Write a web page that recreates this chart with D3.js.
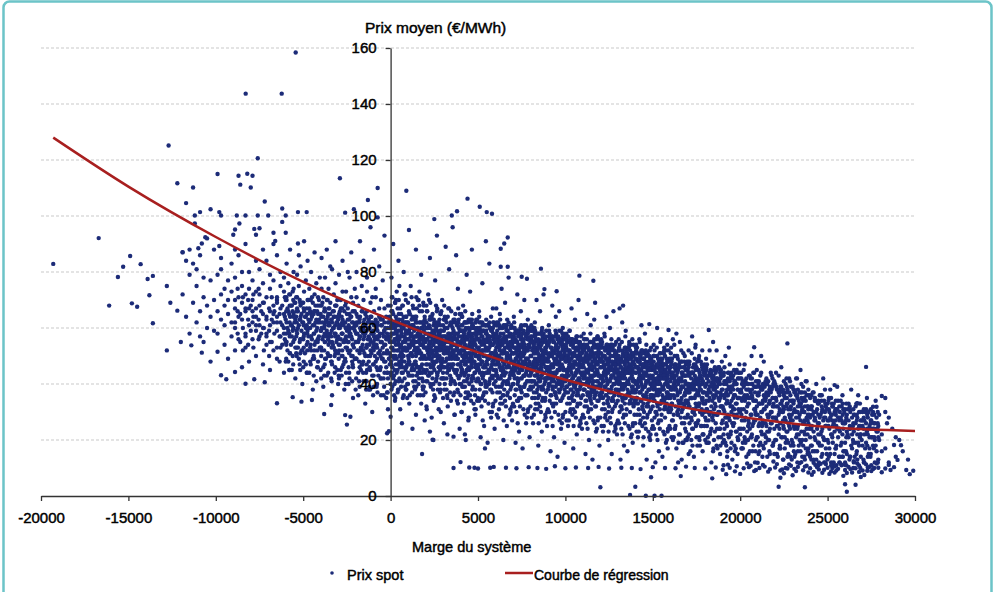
<!DOCTYPE html>
<html>
<head>
<meta charset="utf-8">
<script src="https://cdn.jsdelivr.net/npm/d3@7"></script>
<style>
  body { margin: 0; background: #fff; }
  text { font-family: "Liberation Sans", Arial, sans-serif; fill: #000; stroke: #000; stroke-width: 0.45px; }
</style>
</head>
<body>
<svg id="chart" width="997" height="592"></svg>
<script>
// marge du système en milliers de MW, prix en €/MWh
// chaque ligne : [marge, prix, prix, ...]
const nuageGauche = [
  [-11.9,72,87],[-11.7,64,84],[-11.5,58,79,88],[-11.3,69,83],[-11.1,75,62,81],[-10.9,57,86,66],[-10.7,71,55,78],
  [-10.5,60,92,68],[-10.3,77,64,48],[-10.1,70,59,88],[-9.9,66,79,58],[-9.7,63,85,72,81],[-9.5,54,68,74,61],
  [-9.3,77,49,65,70],[-9.1,57,83,62,73],[-8.9,67,52,60,78,88],[-8.7,64,71,56,86],[-8.5,69,46,63,75,80],
  [-8.3,58,66,72,53,90],[-8.1,61,80,67,48,74],
  [-8.9,62,70],[-8.75,58,66,74],[-8.6,65,55],[-8.45,60,71,52],[-8.3,67,57],[-8.15,63,54,70],[-8.0,59,68],
  [-7.85,64,53,72],[-7.7,61,67],[-7.55,56,63,74],[-7.4,66,58],[-7.25,60,52,69],[-7.1,64,57],[-6.95,59,67,50],
  [-6.8,63,55,71],[-6.65,58,66],[-6.5,62,53,70],[-6.35,57,65,48],[-6.2,61,68,54],[-6.05,56,64,71],
  [-7.9,62,70,56,77,66],[-7.7,59,73,64,50,84],[-7.5,68,81,61,57,72],[-7.3,65,47,76,60,69,88],[-7.1,54,84,63,71,58],
  [-6.9,66,45,79,61,74,55],[-6.7,68,62,52,77,65,90],[-6.5,59,71,86,64,49,69],[-6.3,57,75,62,67,53,80],[-6.1,60,73,44,65,78,58],
  [-5.95,62,70,55,83],[-5.85,66,48,76,59],[-5.75,64,72,51,88],[-5.65,68,61,57,45],[-5.55,74,65,60,80],
  [-5.45,69,63,53,42],[-5.35,79,67,58,71],[-5.25,61,49,75,86],[-5.15,64,56,82,68],[-5.05,69,52,62,40],
  [-4.95,58,73,66,91],[-4.85,47,60,77,64],[-4.75,55,70,59,84],[-4.65,67,44,62,74],[-4.55,52,65,57,80],
  [-4.45,61,49,69,38],[-4.35,54,66,72,87],[-4.25,59,63,41,76],[-4.15,71,56,65,48],[-4.05,62,78,53,68],
  [-3.95,60,68,52,74,85],[-3.85,57,64,46,71,39],[-3.75,62,55,66,49,78],[-3.65,59,63,70,43,88],[-3.55,54,67,61,74,57],
  [-3.45,65,50,69,58,82],[-3.35,62,81,55,47,36],[-3.25,66,60,72,53,64],[-3.15,58,76,51,68,91],[-3.05,64,45,62,56,70],
  [-2.95,61,65,52,79,42],[-2.85,56,70,45,61,67],[-2.75,63,58,73,50,84],[-2.65,48,66,55,62,38],[-2.55,73,60,57,44,69],
  [-2.45,63,55,67,52,80],[-2.35,60,42,78,58,65],[-2.25,57,64,50,71,87],[-2.15,62,69,54,46,35],[-2.05,59,66,61,74,49],
  [-1.95,58,65,49,71,62,80],[-1.85,55,62,44,68,36],[-1.75,60,52,57,64,91],[-1.65,47,75,59,53,66],[-1.55,62,41,56,70,84],
  [-1.45,65,50,58,61,33],[-1.35,45,54,66,73,78],[-1.25,57,63,48,60,38],[-1.15,52,69,55,64,96],[-1.05,43,58,62,71,30],
  [-0.95,66,54,39,61,88,57],[-0.85,71,48,63,53,74],[-0.75,45,56,62,59,37],[-0.65,51,57,64,67,82],[-0.55,42,36,61,55,70],
  [-0.45,63,49,58,53,77],[-0.35,44,59,67,62,93],[-0.25,56,35,51,64,46],[-0.15,62,42,57,68,31],[-0.05,51,64,47,60,55],
  [-6.0,63,55,70,48],[-5.9,60,67,52],[-5.8,65,58,72,45],[-5.7,61,54,68],[-5.6,66,59,50,73],[-5.5,62,56,69],
  [-5.4,64,57,51,71],[-5.3,60,66,53],[-5.2,63,55,70,47],[-5.1,59,65,52],[-5.0,62,56,69,46],[-4.9,64,58,51],
  [-4.8,61,54,67,44],[-4.7,63,57,70],[-4.6,60,53,66,48],[-4.5,64,56,71],[-4.4,58,65,50,43],[-4.3,62,55,68],
  [-4.2,60,66,52,46],[-4.1,63,57,70],[-4.0,59,53,65,45],[-3.9,62,56,69],[-3.8,60,52,66,43],[-3.7,63,57,49],
  [-3.6,58,64,51,70],[-3.5,61,55,67],[-3.4,57,63,48,42],[-3.3,60,54,66],[-3.2,58,64,50,44],[-3.1,62,55,68],
  [-3.0,57,51,63,40],[-2.9,60,54,66],[-2.8,58,50,64,43],[-2.7,61,55,47],[-2.6,56,62,49,68],[-2.5,59,53,65],
  [-2.4,55,61,46,40],[-2.3,58,52,64],[-2.2,56,62,48,41],[-2.1,60,53,66],[-2.0,55,49,61,38],[-1.9,58,52,64],
  [-1.8,56,48,62,41],[-1.7,59,53,45],[-1.6,54,60,47,66],[-1.5,57,51,63],[-1.4,53,59,44,38],[-1.3,56,50,62],
  [-1.2,54,60,46,39],[-1.1,58,51,64],[-1.0,53,47,59,36],[-0.9,56,50,62],[-0.8,54,46,60,39],[-0.7,57,51,43],
  [-0.6,52,58,45,64],[-0.5,55,49,61],[-0.4,51,57,42,36],[-0.3,54,48,60],[-0.2,52,58,44,37],[-0.1,56,49,62]
];

const nuageCentre = [
  [0.05,55,61,47,38,66,78],[0.15,58,65,42,52,50,90],[0.25,52,60,69,56,34],[0.35,56,49,63,58,44,73],[0.45,54,59,38,62,47,84],
  [0.55,61,46,67,53,57,31],[0.65,53,57,41,60,48,26],[0.75,60,50,64,55,36,80],[0.85,55,45,72,58,52,62],[0.95,58,52,62,40,47,35],
  [1.05,48,56,66,53,59,95],[1.15,54,43,60,57,51,75],[1.25,57,50,64,46,61,24],[1.35,52,39,59,55,63,45],[1.45,55,47,62,50,29,88],
  [1.55,53,58,36,60,44,70],[1.65,56,44,68,52,57,73],[1.75,51,60,46,54,33,79],[1.85,57,54,41,62,49,38],[1.95,56,50,63,27,53,64],
  [2.05,56,49,62,53,68,32],[2.15,53,58,43,60,51,72],[2.25,55,60,47,23,57,85],[2.35,51,64,57,44,49,28],[2.45,54,40,59,61,52,20],
  [2.55,52,48,62,56,35,77],[2.65,56,44,66,50,59,93],[2.75,50,58,53,62,46,31],[2.85,55,38,61,48,57,65],[2.95,49,57,46,54,42,70],
  [3.05,54,59,42,51,63,26],[3.15,52,63,48,57,55,89],[3.25,56,51,35,60,46,22],[3.35,58,45,67,53,49,81],[3.45,53,55,41,61,57,34],
  [3.55,50,60,47,56,52,96],[3.65,57,52,37,62,45,29],[3.75,54,44,62,50,58,86],[3.85,49,58,33,55,47,74],[3.95,55,51,65,40,59,24],
  [4.05,55,48,61,52,44,65,30],[4.15,52,57,44,59,50,39,68],[4.25,54,59,39,47,62,56,22],[4.35,50,62,56,45,53,41,79],
  [4.45,53,46,58,51,60,36,27],[4.55,51,55,36,48,57,63,73],[4.65,57,49,63,42,54,46,88],[4.75,52,42,60,55,48,58,33],
  [4.85,54,47,58,50,62,38,29],[4.95,50,56,34,53,45,60,63],[5.05,53,59,45,49,56,41,66],[5.15,51,55,40,58,47,62,21],
  [5.25,57,48,62,52,44,55,76],[5.35,52,54,37,59,50,46,25],[5.45,50,58,44,53,61,40,91],[5.55,55,49,61,47,57,52,19],
  [5.65,53,41,57,62,45,50,83],[5.75,51,46,64,54,59,38,28],[5.85,54,48,32,57,51,60,67],[5.95,56,50,43,61,47,55,24],
  [6.05,53,47,58,44,61,50,67],[6.15,50,55,42,57,48,62,28],[6.25,52,57,37,46,60,54,65],[6.35,49,60,54,43,51,39,74],
  [6.45,51,45,56,58,48,36,20],[6.55,48,53,34,55,61,44,69],[6.65,55,46,61,50,41,57,25],[6.75,50,40,57,53,47,62,78],
  [6.85,52,44,55,49,58,38,31],[6.95,48,54,32,51,57,45,27],[7.05,51,57,43,47,60,53,64],[7.15,49,53,38,56,45,59,19],
  [7.25,55,46,59,50,42,53,72],[7.35,50,52,35,58,47,44,23],[7.45,47,56,42,51,60,38,66],[7.55,53,48,58,45,55,50,17],
  [7.65,51,39,54,61,43,47,70],[7.75,49,44,61,52,57,36,26],[7.85,52,46,30,56,49,58,63],[7.95,54,48,41,59,45,53,21],
  [8.05,50,44,56,41,59,47,61],[8.15,47,53,39,55,45,60,26],[8.25,49,55,35,43,58,51,62],[8.35,46,58,51,40,48,37,70],
  [8.45,48,42,54,56,45,33,18],[8.55,45,50,32,53,58,41,66],[8.65,52,43,59,47,38,55,23],[8.75,47,38,55,50,44,58,72],
  [8.85,49,41,53,46,56,35,29],[8.95,45,51,30,48,54,42,25],[9.05,48,55,40,44,57,50,61],[9.15,46,50,36,53,42,56,16],
  [9.25,52,43,57,47,39,51,68],[9.35,47,49,33,55,44,41,21],[9.45,44,53,39,48,57,36,64],[9.55,50,45,56,42,52,47,14],
  [9.65,48,37,51,59,40,45,66],[9.75,46,41,59,49,54,34,24],[9.85,49,43,28,53,46,56,60],[9.95,51,45,38,56,42,50,19],
  [10.05,48,42,53,39,56,45,58],[10.15,45,50,37,52,43,57,25],[10.25,47,52,33,41,55,48,59],[10.35,44,56,49,38,46,35,67],
  [10.45,46,40,51,53,43,31,17],[10.55,43,48,30,50,55,39,63],[10.65,50,41,55,45,36,52,22],[10.75,45,36,52,47,42,55,70],
  [10.85,47,39,50,44,53,33,27],[10.95,43,49,28,46,51,40,24],[11.05,46,52,38,42,54,48,58],[11.15,44,48,34,50,40,53,15],
  [11.25,50,41,54,45,37,49,65],[11.35,45,47,31,52,42,39,20],[11.45,42,51,37,46,55,34,61],[11.55,48,43,53,40,50,45,13],
  [11.65,46,35,49,56,38,43,63],[11.75,44,39,56,47,51,32,23],[11.85,47,41,27,50,44,53,57],[11.95,49,43,36,53,40,48,18],
  [12.05,46,40,51,37,54,56],[12.15,43,48,35,50,41,23],[12.25,45,50,31,39,53,57],[12.35,42,54,47,36,44,64],
  [12.45,44,38,49,51,30,20],[12.55,41,46,28,48,53,60],[12.65,48,39,53,43,34,15],[12.75,43,34,50,45,40,66],
  [12.85,45,37,48,42,51,25],[12.95,41,47,26,44,49,22],[13.05,44,50,36,40,52,56],[13.15,42,46,32,48,38,13],
  [13.25,48,39,52,43,35,62],[13.35,43,45,29,50,40,18],[13.45,40,49,35,44,53,59],[13.55,46,41,51,38,48,16],
  [13.65,44,33,47,54,36,55],[13.75,42,37,54,45,49,21],[13.85,45,39,25,48,42,19],[13.95,47,41,34,51,38,29],
  [14.05,44,38,49,35,52,54],[14.15,41,46,33,48,39,21],[14.25,43,48,29,37,51,55],[14.35,40,52,45,34,42,61],
  [14.45,42,36,47,49,28,18],[14.55,39,44,26,46,51,58],[14.65,46,37,51,41,32,13],[14.75,41,32,48,43,38,23],
  [14.85,43,35,46,40,49,20],[14.95,39,45,24,42,47,27],[15.05,42,48,34,38,50,54],[15.15,40,44,30,46,36,12],
  [15.25,46,37,50,41,33,60],[15.35,41,43,27,48,38,16],[15.45,38,47,33,42,51,56],[15.55,44,39,49,36,46,14],
  [15.65,42,31,45,52,34,53],[15.75,40,35,52,43,47,19],[15.85,43,37,23,46,40,17],[15.95,45,39,32,49,36,25]
];

// second passage sur le nuage, plus dense
const nuageDense = [
  [0.0,57,50,63,44,68,40],[0.1,53,60,46,66,39,71],[0.2,58,49,62,55,43,36],[0.3,54,64,47,59,70,41],[0.4,61,52,45,57,67,37],
  [0.5,50,56,63,42,48,75],[0.6,59,54,47,65,39,51],[0.7,55,62,44,50,68,35],[0.8,57,48,61,53,42,72],[0.9,52,59,46,64,38,56],
  [1.0,56,50,62,44,69,40],[1.1,53,60,47,58,36,65],[1.2,58,51,45,63,55,71],[1.3,54,47,61,56,41,67],[1.4,60,53,48,64,38,57],
  [1.5,51,57,43,62,67,46],[1.6,59,52,46,55,40,70],[1.7,54,62,49,44,58,36],[1.8,56,50,60,47,66,42],[1.9,53,59,45,61,39,68],
  [2.0,55,49,62,44,58,37],[2.1,52,60,47,56,41,66],[2.2,57,50,43,61,54,70],[2.3,53,58,46,63,39,55],[2.4,59,51,48,56,42,65],
  [2.5,50,55,62,45,36,58],[2.6,56,48,53,60,41,68],[2.7,52,57,44,61,49,38],[2.8,58,50,46,54,63,40],[2.9,53,59,47,42,56,66],
  [3.0,55,48,61,44,52,35],[3.1,51,57,46,60,40,64],[3.2,56,49,53,42,62,38],[3.3,52,58,45,55,47,67],[3.4,57,50,43,61,37,53],
  [3.5,49,55,62,46,41,58],[3.6,54,47,59,51,63,36],[3.7,52,58,44,56,40,65],[3.8,56,49,61,45,53,34],[3.9,51,57,47,60,42,63],
  [4.0,54,47,59,43,51,36],[4.1,50,56,45,61,39,64],[4.2,55,49,52,41,58,33],[4.3,51,57,44,60,47,37],[4.4,56,48,53,42,62,35],
  [4.5,49,54,59,45,40,57],[4.6,53,46,58,50,62,34],[4.7,51,56,43,55,39,61],[4.8,55,48,60,44,52,31],[4.9,50,57,46,59,41,63],
  [5.0,53,46,58,42,50,35],[5.1,49,55,44,60,38,62],[5.2,54,48,51,40,57,32],[5.3,50,56,43,59,46,36],[5.4,55,47,52,41,61,34],
  [5.5,48,53,58,44,39,56],[5.6,52,45,57,49,61,33],[5.7,50,55,42,54,38,60],[5.8,54,47,59,43,51,30],[5.9,49,56,45,58,40,62],
  [6.0,52,45,57,41,49,34],[6.1,48,54,43,59,37,61],[6.2,53,47,50,39,56,31],[6.3,49,55,42,58,45,35],[6.4,54,46,51,40,60,33],
  [6.5,47,52,57,43,38,55],[6.6,51,44,56,48,60,32],[6.7,49,54,41,53,37,59],[6.8,53,46,58,42,50,29],[6.9,48,55,44,57,39,61],
  [7.0,51,44,56,40,48,33],[7.1,47,53,42,58,36,60],[7.2,52,46,49,38,55,30],[7.3,48,54,41,57,44,34],[7.4,53,45,50,39,59,32],
  [7.5,46,51,56,42,37,54],[7.6,50,43,55,47,59,31],[7.7,48,53,40,52,36,58],[7.8,52,45,57,41,49,28],[7.9,47,54,43,56,38,60],
  [8.0,50,43,55,39,47,32],[8.1,46,52,41,57,35,59],[8.2,51,45,48,37,54,29],[8.3,47,53,40,56,43,33],[8.4,52,44,49,38,58,31],
  [8.5,45,50,55,41,36,53],[8.6,49,42,54,46,58,30],[8.7,47,52,39,51,35,57],[8.8,51,44,56,40,48,27],[8.9,46,53,42,55,37,59],
  [9.0,49,42,54,38,46,31],[9.1,45,51,40,56,34,58],[9.2,50,44,47,36,53,28],[9.3,46,52,39,55,42,32],[9.4,51,43,48,37,57,30],
  [9.5,44,49,54,40,35,52],[9.6,48,41,53,45,57,29],[9.7,46,51,38,50,34,56],[9.8,50,43,55,39,47,26],[9.9,45,52,41,54,36,58],
  [10.0,48,41,53,37,45,30],[10.1,44,50,39,55,33,57],[10.2,49,43,46,35,52,27],[10.3,45,51,38,54,41,31],[10.4,50,42,47,36,56,29],
  [10.5,43,48,53,39,34,51],[10.6,47,40,52,44,56,28],[10.7,45,50,37,49,33,55],[10.8,49,42,54,38,46,25],[10.9,44,51,40,53,35,57],
  [11.0,47,40,52,36,44,29],[11.1,43,49,38,54,32,56],[11.2,48,42,45,34,51,26],[11.3,44,50,37,53,40,30],[11.4,49,41,46,35,55,28],
  [11.5,42,47,52,38,33,50],[11.6,46,39,51,43,55,27],[11.7,44,49,36,48,32,54],[11.8,48,41,53,37,45,24],[11.9,43,50,39,52,34,56],
  [12.0,46,39,51,35,43,28],[12.1,42,48,37,53,31,55],[12.2,47,41,44,33,50,25],[12.3,43,49,36,52,39,29],[12.4,48,40,45,34,54,27],
  [12.5,41,46,51,37,32,49],[12.6,45,38,50,42,54,26],[12.7,43,48,35,47,31,53],[12.8,47,40,52,36,44,23],[12.9,42,49,38,51,33,55],
  [13.0,45,38,50,34,42,27],[13.1,41,47,36,52,30,54],[13.2,46,40,43,32,49,24],[13.3,42,48,35,51,38,28],[13.4,47,39,44,33,53,26],
  [13.5,40,45,50,36,31,48],[13.6,44,37,49,41,53,25],[13.7,42,47,34,46,30,52],[13.8,46,39,51,35,43,22],[13.9,41,48,37,50,32,54],
  [14.0,44,37,49,33,41,26],[14.1,40,46,35,51,29,53],[14.2,45,39,42,31,48,23],[14.3,41,47,34,50,37,27],[14.4,46,38,43,32,52,25],
  [14.5,39,44,49,35,30,47],[14.6,43,36,48,40,52,24],[14.7,41,46,33,45,29,51],[14.8,45,38,50,34,42,21],[14.9,40,47,36,49,31,53],
  [15.0,43,36,48,32,40,25],[15.1,39,45,34,50,28,52],[15.2,44,38,41,30,47,22],[15.3,40,46,33,49,36,26],[15.4,45,37,42,31,51,24],
  [15.5,38,43,48,34,29,46],[15.6,42,35,47,39,51,23],[15.7,40,45,32,44,28,50],[15.8,44,37,49,33,41,20],[15.9,39,46,35,48,30,52],
  [16.0,41,35,46,30,24],[16.1,38,44,33,49,27],[16.2,43,36,40,29,21],[16.3,39,45,32,47,25],[16.4,44,36,41,30,50],
  [16.5,37,42,47,33,22],[16.6,41,34,46,38,28],[16.7,39,44,31,43,19],[16.8,43,36,48,32,26],[16.9,38,45,34,47,23],
  [17.0,40,34,45,29,21],[17.1,37,43,32,48,26],[17.2,42,35,39,28,20],[17.3,38,44,31,46,24],[17.4,43,35,40,29,49],
  [17.5,36,41,46,32,21],[17.6,40,33,45,37,27],[17.7,38,43,30,42,18],[17.8,42,35,47,31,25],[17.9,37,44,33,46,22],
  [18.0,39,33,44,28,20],[18.1,36,42,31,47,25],[18.2,41,34,38,27,19],[18.3,37,43,30,45,23],[18.4,42,34,39,28,48],
  [18.5,35,40,45,31,20],[18.6,39,32,44,36,26],[18.7,37,42,29,41,17],[18.8,41,34,46,30,24],[18.9,36,43,32,45,21],
  [19.0,38,32,43,27,19],[19.1,35,41,30,46,24],[19.2,40,33,37,26,18],[19.3,36,42,29,44,22],[19.4,41,33,38,27,47],
  [19.5,34,39,44,30,19],[19.6,38,31,43,35,25],[19.7,36,41,28,40,16],[19.8,40,33,45,29,23],[19.9,35,42,31,44,20],
  [20.0,37,30,42,22],[20.1,34,40,27,17],[20.2,39,31,24,45],[20.3,35,41,28,19],[20.4,40,32,23,36],
  [20.5,33,38,26,43],[20.6,37,29,42,21],[20.7,35,40,25,16],[20.8,39,31,44,27],[20.9,34,41,29,20],
  [21.0,36,29,41,21],[21.1,33,39,26,16],[21.2,38,30,23,44],[21.3,34,40,27,18],[21.4,39,31,22,35],
  [21.5,32,37,25,42],[21.6,36,28,41,20],[21.7,34,39,24,15],[21.8,38,30,43,26],[21.9,33,40,28,19],
  [22.0,35,28,40,20],[22.1,32,38,25,15],[22.2,37,29,22,43],[22.3,33,39,26,17],[22.4,38,30,21,34],
  [22.5,31,36,24,41],[22.6,35,27,40,19],[22.7,33,38,23,14],[22.8,37,29,42,25],[22.9,32,39,27,18],
  [23.0,34,27,39,19],[23.1,31,37,24,14],[23.2,36,28,21,42],[23.3,32,38,25,16],[23.4,37,29,20,33],
  [23.5,30,35,23,40],[23.6,34,26,39,18],[23.7,32,37,22,13],[23.8,36,28,41,24],[23.9,31,38,26,17],
  [24.0,28,21,35,14],[24.1,25,32,18],[24.2,30,23,13,37],[24.3,27,34,20],[24.4,31,16,24],[24.5,26,33,19,12],
  [24.6,29,22,36],[24.7,24,31,15],[24.8,28,20,34,12],[24.9,25,32,17],[25.0,27,20,33,13],[25.1,24,30,17],
  [25.2,29,22,12,35],[25.3,25,32,19],[25.4,30,15,23],[25.5,25,31,18,11],[25.6,28,21,34],[25.7,23,30,14],
  [25.8,27,19,32,11],[25.9,24,31,16],[26.0,26,19,31,12],[26.1,23,29,15],[26.2,27,21,33],[26.3,24,30,14],
  [26.4,28,17,22],[26.5,23,29,12],[26.6,26,19,32],[26.7,22,28,13],[26.8,25,18,30],[26.9,22,27,14],
  [27.0,25,18,30],[27.1,22,27,12],[27.2,26,19,31],[27.3,22,28,14],[27.4,25,17,21],[27.5,21,27,11],
  [27.6,24,18,30],[27.7,20,26,12],[27.8,23,16,28],[27.9,21,25,13]
];

// troisième passage sur le cœur le plus sombre
const nuageCoeur = [
  [-5.97,58,66,49,71,54],[-5.77,62,51,68,45,57],[-5.57,55,64,60,47,70],[-5.37,59,50,66,53,62],[-5.17,63,56,45,69,51],
  [-4.97,57,61,48,67,53],[-4.77,60,52,65,44,58],[-4.57,54,63,57,70,47],[-4.37,61,49,58,66,52],[-4.17,56,62,46,55,68],
  [-3.97,59,53,64,42,50],[-3.77,55,61,47,67,58],[-3.57,62,50,56,44,65],[-3.37,53,59,63,48,41],[-3.17,57,46,61,68,52],
  [-2.97,60,54,49,64,43],[-2.77,52,58,62,46,67],[-2.57,56,48,60,53,40],[-2.37,59,51,44,63,57],[-2.17,54,60,47,66,50],
  [-1.97,55,49,61,42,58],[-1.77,51,57,46,63,39],[-1.57,58,52,44,60,48],[-1.37,53,47,59,41,64],[-1.17,56,50,62,45,38],
  [-0.97,52,58,43,55,47],[-0.77,57,49,61,40,53],[-0.57,50,55,46,63,42],[-0.37,54,59,48,39,57],[-0.17,51,56,44,60,37],
  [0.03,53,48,58,43,62],[0.23,50,56,45,61,40],[0.43,55,47,52,63,38],[0.63,51,58,44,49,60],[0.83,56,46,53,39,62],
  [1.03,49,54,59,43,47],[1.23,54,50,45,61,37],[1.43,52,57,41,48,63],[1.63,55,46,51,59,42],[1.83,50,56,44,62,39],
  [2.03,53,47,58,41,60],[2.23,49,55,44,51,63],[2.43,54,46,50,58,38],[2.63,51,57,42,48,61],[2.83,55,45,52,37,59],
  [3.03,48,53,57,42,46],[3.23,53,49,44,60,36],[3.43,51,56,40,47,62],[3.63,54,45,50,58,41],[3.83,49,55,43,61,38],
  [4.03,52,46,57,40,59],[4.23,48,54,43,50,62],[4.43,53,45,49,57,37],[4.63,50,56,41,47,60],[4.83,54,44,51,36,58],
  [5.03,47,52,56,41,45],[5.23,52,48,43,59,35],[5.43,50,55,39,46,61],[5.63,53,44,49,57,40],[5.83,48,54,42,60,37],
  [6.03,51,45,56,39,58],[6.23,47,53,42,49,61],[6.43,52,44,48,56,36],[6.63,49,55,40,46,59],[6.83,53,43,50,35,57],
  [7.03,46,51,55,40,44],[7.23,51,47,42,58,34],[7.43,49,54,38,45,60],[7.63,52,43,48,56,39],[7.83,47,53,41,59,36],
  [8.03,50,44,55,38,57],[8.23,46,52,41,48,60],[8.43,51,43,47,55,35],[8.63,48,54,39,45,58],[8.83,52,42,49,34,56],
  [9.03,45,50,54,39,43],[9.23,50,46,41,57,33],[9.43,48,53,37,44,59],[9.63,51,42,47,55,38],[9.83,46,52,40,58,35],
  [10.03,49,43,54,37,56],[10.23,45,51,40,47,59],[10.43,50,42,46,54,34],[10.63,47,53,38,44,57],[10.83,51,41,48,33,55],
  [11.03,44,49,53,38,42],[11.23,49,45,40,56,32],[11.43,47,52,36,43,58],[11.63,50,41,46,54,37],[11.83,45,51,39,57,34],
  [12.03,48,42,53,36,55],[12.23,44,50,39,46,58],[12.43,49,41,45,53,33],[12.63,46,52,37,43,56],[12.83,50,40,47,32,54],
  [13.03,43,48,52,37,41],[13.23,48,44,39,55,31],[13.43,46,51,35,42,57],[13.63,49,40,45,53,36],[13.83,44,50,38,56,33],
  [14.03,46,40,51,34,53],[14.23,42,48,37,44,56],[14.43,47,39,43,51,31],[14.63,44,50,35,41,54],[14.83,48,38,45,30,52],
  [15.03,41,46,50,35,39],[15.23,46,42,37,53,29],[15.43,44,49,33,40,55],[15.63,47,38,43,51,34],[15.83,42,48,36,54,31],
  [16.03,44,38,49,32,51],[16.23,40,46,35,42,54],[16.43,45,37,41,49,29],[16.63,42,48,33,39,52],[16.83,46,36,43,28,50],
  [17.03,39,44,48,33,37],[17.23,44,40,35,51,27],[17.43,42,47,31,38,53],[17.63,45,36,41,49,32],[17.83,40,46,34,52,29]
];

// quatrième passage : bords haut et bas du nuage
const nuageBords = [
  [0.07,66,44,58,71],[0.27,62,50,69,35],[0.47,57,65,41,70],[0.67,63,46,68,52],[0.87,59,70,38,64],
  [1.07,65,48,61,33],[1.27,60,68,43,55],[1.47,64,51,71,39],[1.67,58,66,45,62],[1.87,62,55,69,36],
  [2.07,60,66,45,31],[2.27,64,52,69,40],[2.47,58,63,47,34],[2.67,62,55,67,43],[2.87,59,65,49,30],
  [3.07,63,53,68,38],[3.27,57,64,46,32],[3.47,61,54,66,42],[3.67,58,63,49,29],[3.87,62,52,67,37],
  [4.07,59,64,45,30],[4.27,62,51,66,35],[4.47,57,63,43,28],[4.67,61,53,65,38],[4.87,56,62,46,31],
  [5.07,60,50,64,34],[5.27,55,61,42,27],[5.47,59,52,63,37],[5.67,56,60,45,30],[5.87,58,49,62,33],
  [6.07,57,62,43,29],[6.27,60,49,63,33],[6.47,55,61,41,27],[6.67,59,51,63,36],[6.87,54,60,44,30],
  [7.07,58,48,62,32],[7.27,53,59,40,26],[7.47,57,50,61,35],[7.67,54,58,43,29],[7.87,56,47,60,31],
  [8.07,55,60,41,28],[8.27,57,47,59,31],[8.47,53,58,39,26],[8.67,56,49,60,34],[8.87,52,57,42,28],
  [9.07,55,46,59,30],[9.27,51,56,38,25],[9.47,54,48,58,33],[9.67,51,56,41,27],[9.87,53,45,57,29],
  [10.07,52,57,39,27],[10.27,55,45,56,30],[10.47,50,55,37,25],[10.67,53,47,57,32],[10.87,49,54,40,26],
  [11.07,52,44,56,28],[11.27,48,53,36,24],[11.47,51,46,55,31],[11.67,48,53,39,26],[11.87,50,43,54,28],
  [12.07,49,54,37,25],[12.27,52,43,53,28],[12.47,47,52,35,23],[12.67,50,45,54,30],[12.87,46,51,38,24],
  [13.07,49,42,53,26],[13.27,45,50,34,22],[13.47,48,44,52,29],[13.67,45,50,37,24],[13.87,47,41,51,26],
  [14.07,46,51,35,23],[14.27,49,41,50,26],[14.47,44,49,33,21],[14.67,47,43,51,28],[14.87,43,48,36,22],
  [15.07,46,40,50,24],[15.27,42,47,32,20],[15.47,45,42,49,27],[15.67,42,47,35,22],[15.87,44,39,48,24],
  [16.07,43,48,33,21],[16.27,46,39,47,24],[16.47,41,46,31,19],[16.67,44,41,48,26],[16.87,40,45,34,20],
  [17.07,43,38,47,22],[17.27,39,44,30,18],[17.47,42,40,46,25],[17.67,39,44,33,20],[17.87,41,37,45,22],
  [18.07,40,45,31,19],[18.27,43,37,44,22],[18.47,38,43,29,17],[18.67,41,39,45,24],[18.87,37,42,32,18],
  [19.07,40,36,44,20],[19.27,36,41,28,16],[19.47,39,38,43,23],[19.67,36,41,31,18],[19.87,38,35,42,20],
  [20.07,37,42,29,17],[20.27,40,34,41,20],[20.47,35,40,27,15],[20.67,38,36,42,22],[20.87,34,39,30,16],
  [21.07,37,33,41,18],[21.27,33,38,26,14],[21.47,36,35,40,21],[21.67,33,38,29,16],[21.87,35,32,39,18],
  [22.07,34,39,27,15],[22.27,37,31,38,18],[22.47,32,37,25,13],[22.67,35,33,39,20],[22.87,31,36,28,14],
  [23.07,34,30,38,16],[23.27,30,35,24,12],[23.47,33,32,37,19],[23.67,30,35,27,14],[23.87,32,29,36,16],
  [24.07,31,36,24,13],[24.27,34,28,35,16],[24.47,29,34,22,11],[24.67,32,30,36,18],[24.87,28,33,25,12],
  [25.07,31,27,35,14],[25.27,27,32,21,10],[25.47,30,29,34,17],[25.67,27,32,24,12],[25.87,29,26,33,14],
  [26.07,28,33,21,11],[26.27,31,25,32,14],[26.47,26,31,19,10],[26.67,29,27,33,16],[26.87,25,30,22,10],
  [27.07,28,24,31,12],[27.27,24,29,18,9],[27.47,27,26,31,15],[27.67,24,29,21,10],[27.87,26,23,30,12]
];

const nuageDroite = [
  [16.05,42,36,47,31,53],[16.15,39,44,27,20,56],[16.25,41,46,24,38,50],[16.35,38,50,43,17,58],[16.45,40,34,45,29,12],
  [16.55,37,42,22,48,55],[16.65,44,35,30,39,13],[16.75,39,46,33,19,51],[16.85,41,33,43,37,24],[16.95,37,43,28,48,20],
  [17.05,40,46,32,15,52],[17.15,38,28,44,35,16],[17.25,44,35,24,39,57],[17.35,39,41,30,47,14],[17.45,36,45,26,33,54],
  [17.55,42,26,48,37,18],[17.65,40,33,38,21,50],[17.75,38,48,30,43,25],[17.85,41,35,22,46,16],[17.95,43,30,37,25,47],
  [18.05,40,34,46,27,49],[18.15,37,43,21,30,19],[18.25,39,29,44,35,52],[18.35,44,32,24,40,12],[18.45,36,41,27,16,55],
  [18.55,38,33,42,23,46],[18.65,42,37,29,18,52],[18.75,46,30,35,21,40],[18.85,40,35,24,44,15],[18.95,38,26,43,32,48],
  [19.05,43,31,36,22,11],[19.15,36,41,28,19,50],[19.25,41,34,25,38,14],[19.35,39,28,44,21,53],[19.45,37,42,22,32,17],
  [19.55,42,32,26,39,13],[19.65,36,26,40,29,45],[19.75,40,33,23,44,17],[19.85,38,21,35,28,15],[19.95,35,44,30,24,47],
  [20.05,38,31,24,44],[20.15,35,41,19,17],[20.25,27,36,47,21],[20.35,42,30,14,38],[20.45,33,38,25,20],
  [20.55,24,35,43,16],[20.65,40,29,21,50],[20.75,34,44,26,18],[20.85,27,37,31,12],[20.95,32,21,39,45],
  [21.05,36,40,25,15],[21.15,28,33,43,19],[21.25,39,25,30,22],[21.35,31,36,17,48],[21.45,19,34,41,26],
  [21.55,40,29,23,14],[21.65,33,23,37,20],[21.75,37,30,26,44],[21.85,35,18,42,28],[21.95,32,41,24,15],
  [22.05,35,28,20,44],[22.15,32,38,14,25],[22.25,24,36,30,17],[22.35,33,39,21,46],[22.45,27,30,13,38],
  [22.55,35,21,28,17],[22.65,32,37,23,42],[22.75,26,31,19,15],[22.85,41,24,34,28],[22.95,34,29,13,20],
  [23.05,18,33,38,25],[23.15,37,25,15,30],[23.25,30,36,22,42],[23.35,22,28,34,18],[23.45,33,16,27,45],
  [23.55,31,37,20,14],[23.65,26,30,35,23],[23.75,20,34,17,41],[23.85,27,32,22,15],[23.95,15,29,36,24],
  [24.05,32,25,18],[24.15,29,16,37],[24.25,35,21,27],[24.35,30,13,40],[24.45,26,33,19],[24.55,18,28,36],
  [24.65,34,23,14],[24.75,27,42,21],[24.85,38,20,30],[24.95,31,15,25],[25.05,25,34,19],[25.15,15,28,38],
  [25.25,29,22,33],[25.35,33,12,26],[25.45,27,17,31],[25.55,31,24,39],[25.65,24,14,28],[25.75,28,34,18],
  [25.85,14,22,36],[25.95,26,30,16],
  [26.05,27,16],[26.15,22,31],[26.25,31,13,24],[26.35,18,38],[26.45,25,20],[26.55,29,14],[26.65,15,33],
  [26.75,24,19,36],[26.85,33,21],[26.95,20,27],[27.05,27,13],[27.15,17,30],[27.25,23,35],[27.35,30,15],
  [27.45,14,24],[27.55,21,29],[27.65,26,17],[27.75,18,34],[27.85,24,12],[27.95,29,20],
  [28.1,22,16],[28.3,17,30],[28.5,28,12],[28.7,24],[28.9,14,21],[29.1,20],[29.3,16],[29.6,13],[29.9,9]
];

// plancher de prix autour de 10 €/MWh
const plancher = [
  [4.5,10.2],[5.0,9.8],[5.9,10.4],[6.6,10.1],[7.2,9.9],[7.9,10.3],[8.4,10],[8.9,9.7],[9.4,10.6],[10.0,9.9],
  [10.6,10.2],[11.3,10],[11.9,10.4],[12.5,9.8],[13.2,10.1],[13.8,10],[14.3,9.6],[15.0,10.3],[15.7,10],[16.3,9.9],
  [16.9,10.5],[17.4,10],[18.0,9.8],[18.6,10.2],[19.0,9.4],[19.4,10.1],[19.8,10.6],[20.2,9.9],[20.5,10.3],[20.8,8.9],
  [21.1,10],[21.4,10.5],[21.7,9.6],[22.0,10.2],[22.3,9.1],[22.6,10],[22.8,11.3],[23.1,9.7],[23.3,10.4],[23.6,9.2],
  [23.8,10.8],[24.0,9.9],[24.2,8.6],[24.4,10.3],[24.6,11.5],[24.8,9.4],[25.0,10.1],[25.2,8.8],[25.4,10.6],[25.6,9.7],
  [25.8,11.2],[26.0,9.3],[26.2,10.4],[26.4,8.4],[26.6,9.9],[26.8,10.9],[27.0,9.1],[27.3,10.2],[27.6,9.6],[27.9,10.1],
  [28.3,9.8],[28.8,10.3],[21.9,12.3],[23.5,12.1],[25.3,11.8],[26.5,12.4],[24.1,7.6],[25.9,7.2],[26.9,6.8],[23.0,7.4],
  [20.0,7.9],[22.5,8.1],[27.1,7.5],[24.9,11.4],[26.1,8.2],[25.5,9.1],[24.5,9.5],[23.9,8.4],[26.7,11.6],[25.1,7.9],
  [19.3,11.2],[19.7,8.8],[20.4,11.6],[20.9,9.3],[21.3,11.1],[21.6,8.7],[22.1,11.4],[22.4,9.5],[22.9,10.8],[23.2,8.9],
  [23.4,11.7],[23.7,10.5],[24.3,11.1],[24.7,8.3],[25.2,10.9],[25.7,11.9],[26.3,9.6],[26.8,8.6],[27.2,11.3],[27.5,8.9],
  [27.8,11.6],[28.1,8.5],[28.5,11.1],[20.6,10.8],[21.0,11.9],[22.7,9.8],[24.2,11.9],[25.4,8.4],[26.0,11.1],[27.4,10.4]
];

// points isolés
const extremes = [
  [-19.3,82.9],[-16.7,92.1],[-15.6,78.2],[-15.3,81.9],[-14.9,85.7],[-14.3,82.8],[-13.9,77.5],[-13.6,78.6],[-13.8,71.7],
  [-12.8,75],[-16.1,68],[-14.8,68.8],[-14.5,67.6],[-13.6,61.7],[-12.8,52],[-12.6,69],[-12,55],[-12.2,66.2],[-11.4,53.8],
  [-10.8,51.2],[-9.9,51.5],[-9.7,43.1],[-9.4,41.7],[-8.9,44.3],[-8.3,40.1],[-7.8,41.7],[-7.2,40.6],[-6.5,33.1],[-5.6,35.3],
  [-5.1,33.7],[-4.5,34.3],[-3.8,29.3],[-3.4,32.5],[-2.6,28.9],[-2.5,25.5],[-2.3,28.3],[-0.2,22.4],[-0.1,23.1],[0,28.3],
  [-5.43,158.4],[-8.29,143.7],[-6.23,143.7],[-12.7,125.2],[-7.6,120.6],[-12.2,111.7],[-9.9,115],[-8.7,114.4],[-8.2,115.1],
  [-7.9,114.4],[-8.6,111.2],[-8.0,110.2],[-11.3,110.2],[-2.9,113.5],[-0.74,110],[0.9,109],[-1.3,105.7],[-7.2,105.2],
  [-11.7,104.6],[-10.3,102.4],[-10.9,101.4],[-9.8,101.4],[-11.2,100.2],[-9.7,100.2],[-8.8,100.2],[-8.3,100.2],[-7.6,100.2],
  [-7.0,100.2],[-6.2,102.7],[-6.0,100.2],[-5.3,101.4],[-4.8,101.4],[-2.6,101.2],[-2.1,102.4],[-0.74,99.5],[2.5,98.9],
  [3.5,100.2],[3.8,101.7],[4.4,106.2],[5.1,103.3],[5.5,101.4],[5.8,100.8],
  [-8.65,97.3],[-7.8,95.4],[-7.5,95.6],[-8.9,95.2],[-9.0,93.3],[-7.7,93.3],[-6.7,94],[-6.2,97.9],[-6.0,94],[-10.6,92.4],
  [-11.2,97.3],[-6.6,91.1],[-5.3,90.2],[-11.9,87.1],[-11.0,88.5],[-10.8,90.2],[-9.8,89.3],
  [6.7,92.3],[6.5,90.2],[6.3,88.3],[6.3,81.9],[6.7,81.9],[8.6,81.2],[7.5,78.3],[7.8,77.6],[10.8,78.7],[11.6,76.9],
  [8.8,73.9],[9.5,73.1],[11.7,69],[13.3,68],[13.1,67],[14.8,61.4],[15.9,59.3],[18.2,59.3],[20.8,53.1],[21.2,50],
  [22.7,54.5],[25.4,39.6],[26.7,33.1],[27.2,46.1],[27.6,31.9],[27.8,31.9],[28.1,35.7],[28.3,35],[28.4,26],[28.8,18.2],
  [29.2,18.1],[29.0,12.9],[28.6,9.3],[29.5,9.3],[29.7,7.8],[26.1,1.5],[26.6,4],[26.0,4.2],[23.7,3.1],[22.2,3.3],
  [22.3,6.5],[12.0,3.1],[13.7,0.4],[14.0,3.3],[14.6,0.1],[15.1,0.1],[15.5,0.1],[14.9,6.7],[16.6,7.1],[18.4,6.3],[19.2,7.8],
  [1.8,15],[2.4,20.1],[3.6,10],[4.0,12.1],[4.3,20],[4.8,10.1],[5.7,10.1],[5.4,17],[3.6,21.2]
];

// courbe de régression
const regression = [
  [-19.3,128],[-15,110.5],[-10,92.5],[-5,76.5],[0,63],[5,51.3],[10,41.5],[15,33.8],[20,28.3],[25,24.6],[30,23.2]
];

const xTicks = [-20000,-15000,-10000,-5000,0,5000,10000,15000,20000,25000,30000];
const yTicks = [0,20,40,60,80,100,120,140,160];

const svg = d3.select('#chart');

// cadre
svg.append('rect')
  .attr('x', 3.5).attr('y', 1.5)
  .attr('width', 988).attr('height', 610)
  .attr('rx', 6)
  .attr('fill', '#fff')
  .attr('stroke', '#6cc4c8')
  .attr('stroke-width', 2.5);

const x = d3.scaleLinear().domain([-20000, 30000]).range([41, 915]);
const y = d3.scaleLinear().domain([0, 160]).range([496, 48]);

// quadrillage
svg.append('g')
  .selectAll('line')
  .data(yTicks.filter(d => d > 0))
  .enter().append('line')
  .attr('x1', x(-20000)).attr('x2', x(30000))
  .attr('y1', d => y(d)).attr('y2', d => y(d))
  .attr('stroke', '#c9c9c9')
  .attr('stroke-width', 1)
  .attr('stroke-dasharray', '3,2');

// nuage de points
const points = [];
[nuageGauche, nuageCentre, nuageDense, nuageCoeur, nuageBords, nuageDroite].forEach(bloc => {
  bloc.forEach(r => r.slice(1).forEach(p => points.push([r[0], p])));
});
plancher.forEach(p => points.push(p));
extremes.forEach(p => points.push(p));

svg.append('g')
  .selectAll('circle')
  .data(points)
  .enter().append('circle')
  .attr('cx', d => x(d[0] * 1000))
  .attr('cy', d => y(d[1]))
  .attr('r', 2.2)
  .attr('fill', '#1c2b78');

// courbe
const line = d3.line()
  .x(d => x(d[0] * 1000))
  .y(d => y(d[1]))
  .curve(d3.curveMonotoneX);

svg.append('path')
  .datum(regression)
  .attr('d', line)
  .attr('fill', 'none')
  .attr('stroke', '#a81f1f')
  .attr('stroke-width', 2.5);

// axes
const xAxis = d3.axisBottom(x)
  .tickValues(xTicks)
  .tickSize(5)
  .tickSizeOuter(0)
  .tickPadding(11)
  .tickFormat(d => String(d));

const gx = svg.append('g')
  .attr('transform', `translate(0,${y(0)})`)
  .call(xAxis);

const yAxis = d3.axisLeft(y)
  .tickValues(yTicks)
  .tickSize(5)
  .tickSizeOuter(0)
  .tickPadding(9);

const gy = svg.append('g')
  .attr('transform', `translate(${x(0)},0)`)
  .call(yAxis);

[gx, gy].forEach(g => {
  g.select('.domain').attr('stroke', '#333').attr('stroke-width', 1.3);
  g.selectAll('.tick line').attr('stroke', '#333').attr('stroke-width', 1.3);
  g.selectAll('.tick text')
    .attr('font-family', '"Liberation Sans", Arial, sans-serif')
    .attr('font-size', 15)
    .attr('fill', '#000');
});

// titres
svg.append('text')
  .attr('x', 365).attr('y', 33)
  .attr('font-size', 15.5)
  .text('Prix moyen (€/MWh)');

svg.append('text')
  .attr('x', 412).attr('y', 552)
  .attr('font-size', 14.5)
  .text('Marge du système');

// légende
const leg = svg.append('g');
leg.append('circle')
  .attr('cx', 332).attr('cy', 573)
  .attr('r', 1.8)
  .attr('fill', '#1c2b78');
leg.append('text')
  .attr('x', 347).attr('y', 580)
  .attr('font-size', 14.5)
  .text('Prix spot');
leg.append('line')
  .attr('x1', 505).attr('x2', 533)
  .attr('y1', 573).attr('y2', 573)
  .attr('stroke', '#a81f1f')
  .attr('stroke-width', 2.5);
leg.append('text')
  .attr('x', 534).attr('y', 580)
  .attr('font-size', 14)
  .text('Courbe de régression');
</script>
</body>
</html>
